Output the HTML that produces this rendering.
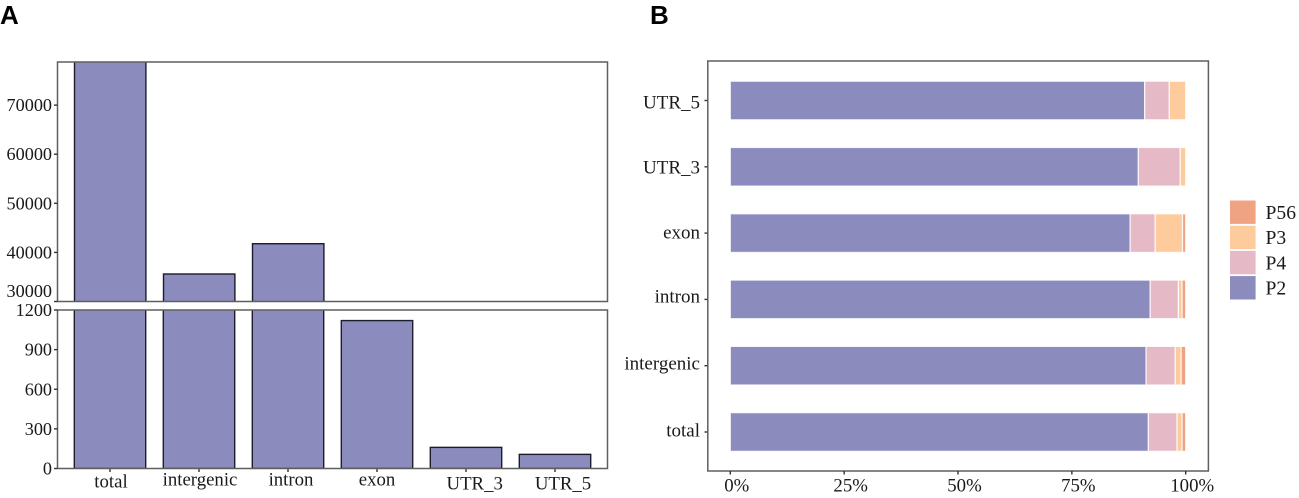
<!DOCTYPE html>
<html lang="en">
<head>
<meta charset="utf-8">
<title>Read distribution by genomic region</title>
<style>
html,body{margin:0;padding:0;background:#fff;width:1299px;height:498px;overflow:hidden}
svg{display:block}
text{font-family:"Liberation Serif",serif;fill:#1a1a1a}
.letter{font-family:"Liberation Sans",sans-serif;font-weight:700;font-size:26px;fill:#000}
</style>
</head>
<body>
<svg id="fig" xmlns="http://www.w3.org/2000/svg" width="1299" height="498" viewBox="0 0 1299 498">
  <defs>
    <clipPath id="clip-upper"><rect x="57.5" y="62" width="550" height="239.5"></rect></clipPath>
    <clipPath id="clip-lower"><rect x="57.5" y="310" width="550" height="158.5"></rect></clipPath>
  </defs>
  <text class="letter" x="0" y="24">A</text>
  <text class="letter" x="650" y="24">B</text>
  <g id="panel-a"></g>
  <g id="panel-b"></g>
  <g id="legend"></g>
</svg>
<script>
// Panel A data
const countCategories = ['total', 'intergenic', 'intron', 'exon', 'UTR_3', 'UTR_5'];
const countValues = [80000, 35600, 41770, 1120, 160, 107];
const upperTickValues = [30000, 40000, 50000, 60000, 70000];
const lowerTickValues = [0, 300, 600, 900, 1200];

// Panel B data (percent of each category)
const shareCategories = ['total', 'intergenic', 'intron', 'exon', 'UTR_3', 'UTR_5'];
const seriesNames = ['P2', 'P4', 'P3', 'P56'];
const shareP2 = [91.8, 91.3, 92.2, 87.8, 89.6, 91.0];
const shareP4 = [6.3, 6.4, 6.2, 5.5, 9.2, 5.4];
const shareP3 = [1.1, 1.3, 0.8, 6.0, 1.2, 3.6];
const shareP56 = [0.8, 1.0, 0.8, 0.7, 0, 0];
const percentTicks = [0, 25, 50, 75, 100];
const legendOrder = ['P56', 'P3', 'P4', 'P2'];

const seriesColor = {P2: '#8b8bbe', P4: '#e6b9c6', P3: '#fdcb9c', P56: '#f0a383'};
const seriesShares = {P2: shareP2, P4: shareP4, P3: shareP3, P56: shareP56};

const NS = 'http://www.w3.org/2000/svg';
function mk(parent, tag, attrs, txt) {
  const el = document.createElementNS(NS, tag);
  for (const k in attrs) el.setAttribute(k, attrs[k]);
  if (txt !== undefined) el.textContent = txt;
  parent.appendChild(el);
  return el;
}

const AXIS = '#5f5f5f', TICK = '#333', OUT = '#1c1c2c';
const a = document.getElementById('panel-a');
const b = document.getElementById('panel-b');
const lg = document.getElementById('legend');

// Panel A scales
const yUpper = v => 301.5 - (v - 30000) * 49.1 / 10000;
const yLower = v => 468.5 - v * 158.5 / 1200;
const xBand = i => 110 + i * 89;
const upperBandX = i => 110.2 + i * 89;
const BAR_W = 71.4;

// Labels in the source figure sit slightly off their nominal anchors
function catLabelX(i) { return xBand(i) + [1, 1, 3, 0, 8.7, 8][i]; }
function catLabelY(i) { return [487.7, 485.7, 485.7, 485.7, 489.3, 489.3][i]; }
function shareLabelDy(i) { return [4.7, 3.6, 3.3, 5.6, 6.5, 7.8][i]; }

countCategories.forEach((c, i) => {
  const v = countValues[i];
  if (v > 30000) {
    const top = yUpper(v);
    const r = mk(a, 'rect', {x: upperBandX(i) - BAR_W / 2, y: top, width: BAR_W, height: 301.5 - top + 2, fill: seriesColor.P2, stroke: OUT, 'stroke-width': 1.4, 'clip-path': 'url(#clip-upper)'});
    
    
  }
  const lowTop = yLower(Math.min(v, 1300));
  const lr = mk(a, 'rect', {x: xBand(i) - BAR_W / 2, y: lowTop, width: BAR_W, height: 468.5 - lowTop, fill: seriesColor.P2, stroke: OUT, 'stroke-width': 1.4, 'clip-path': 'url(#clip-lower)'});
  
  

  const t = mk(a, 'line', {x1: xBand(i), x2: xBand(i), y1: 468.5, y2: 472, stroke: TICK, 'stroke-width': 1.4});
  
  

  const l = mk(a, 'text', {x: catLabelX(i), y: catLabelY(i), 'text-anchor': 'middle', 'font-size': 18.8}, c);
  
  
});

const upperFrame = mk(a, 'path', {d: 'M57.5 301.5V62H607.5V301.5H57.5', fill: 'none', stroke: AXIS, 'stroke-width': 1.5});


const lowerFrame = mk(a, 'path', {d: 'M57.5 468.5V310H607.5V468.5H57.5', fill: 'none', stroke: AXIS, 'stroke-width': 1.5});



upperTickValues.forEach(v => {
  const y = yUpper(v);
  const t = mk(a, 'line', {x1: 54, x2: 57.5, y1: y, y2: y, stroke: TICK, 'stroke-width': 1.4});
  
  
  const labelY = v === upperTickValues[0] ? y - 4.5 : y + 6;
  const l = mk(a, 'text', {x: 52, y: labelY, 'text-anchor': 'end', 'font-size': 18.2}, String(v));
  
  
});
lowerTickValues.forEach(v => {
  const y = yLower(v);
  const t = mk(a, 'line', {x1: 54, x2: 57.5, y1: y, y2: y, stroke: TICK, 'stroke-width': 1.4});
  
  
  const l = mk(a, 'text', {x: 52, y: y + 6, 'text-anchor': 'end', 'font-size': 18.2}, String(v));
  
  
});

// Panel B scales
const xPct = p => 730.3 + p * 4.554;
const yBand = i => 432 - i * 66.3;
const BAND_H = 38.6;

shareCategories.forEach((c, i) => {
  let acc = 0;
  seriesNames.forEach(s => {
    const v = seriesShares[s][i];
    if (v > 0) {
      const seg = mk(b, 'rect', {x: xPct(acc), y: yBand(i) - BAND_H / 2, width: v * 4.554, height: BAND_H, fill: seriesColor[s], stroke: '#fff', 'stroke-opacity': 0.85, 'stroke-width': 1.2});
      
      
    }
    acc += v;
  });
  const t = mk(b, 'line', {x1: 704.5, x2: 708, y1: yBand(i), y2: yBand(i), stroke: TICK, 'stroke-width': 1.4});
  
  
  const l = mk(b, 'text', {x: 700, y: yBand(i) + shareLabelDy(i), 'text-anchor': 'end', 'font-size': 19}, c);
  
  
});

const frameB = mk(b, 'rect', {x: 707.8, y: 61, width: 500.6, height: 410, fill: 'none', stroke: AXIS, 'stroke-width': 1.5});



percentTicks.forEach(p => {
  const t = mk(b, 'line', {x1: xPct(p), x2: xPct(p), y1: 471, y2: 474.5, stroke: TICK, 'stroke-width': 1.4});
  
  
  const l = mk(b, 'text', {x: xPct(p) + 6.5, y: 491.5, 'text-anchor': 'middle', 'font-size': 18.8}, p + '%');
  
  
});

// Legend
legendOrder.forEach((s, i) => {
  const y = 200.5 + i * 25.2;
  const sw = mk(lg, 'rect', {x: 1230, y: y, width: 25.6, height: 23.4, fill: seriesColor[s]});
  
  
  const l = mk(lg, 'text', {x: 1265.5, y: y + 18.5, 'font-size': 19.6}, s);
  
  
});
</script>
</body>
</html>
